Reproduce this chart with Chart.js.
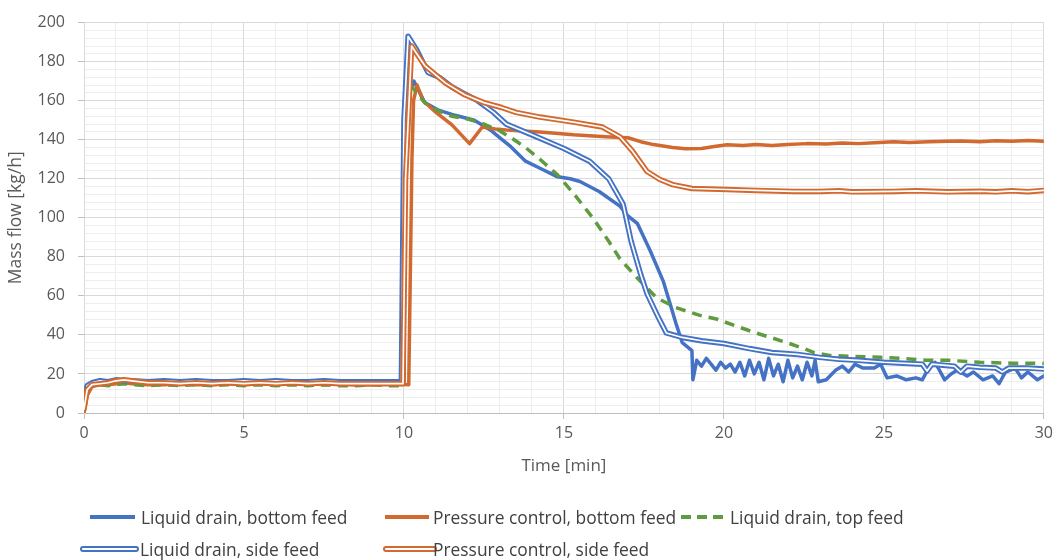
<!DOCTYPE html>
<html>
<head>
<meta charset="utf-8">
<script src="https://cdn.jsdelivr.net/npm/chart.js@4.4.1/dist/chart.umd.min.js"></script>
<style>
  body { margin: 0; background: #fff; }
  #wrap { position: relative; width: 1058px; height: 560px; }
  #chart { position: absolute; left: 0; top: 0; }
  .item { position: absolute; font-family: "Open Sans", sans-serif; font-size: 17.4px; color: #404040; white-space: nowrap; line-height: 20px; }
  .sym { position: absolute; }
</style>
</head>
<body>
<div id="wrap">
  <canvas id="chart" width="1058" height="560"></canvas>
  <div id="legend"></div>
</div>
<script>
// Liquid drain, bottom feed
const ldBottomT = [0, 0.1, 0.25, 0.5, 0.75, 1, 1.25, 1.5, 2, 2.5, 3, 3.5, 4, 4.5, 5, 5.5, 6, 6.5, 7, 7.5, 8, 8.5, 9, 9.5, 10.0,
  10.03, 10.1, 10.2, 10.31, 10.65, 11.1, 11.6, 12.2, 12.7, 13.0, 13.3, 13.8, 14.3, 14.8, 15.2, 15.5, 16.1, 16.75, 17.0, 17.3, 17.7, 18.1, 18.3, 18.5, 18.7, 19.0, 19.03,
  19.15, 19.3, 19.45, 19.6, 19.75, 19.9, 20.05, 20.2, 20.35, 20.5, 20.65, 20.8, 20.95, 21.1, 21.25, 21.4, 21.55, 21.7, 21.85, 22.0, 22.15, 22.3, 22.45, 22.6, 22.75, 22.85, 22.95,
  23.2, 23.5, 23.7, 23.9, 24.1, 24.35, 24.7, 24.9, 25.1, 25.4, 25.7, 26.0, 26.2, 26.4, 26.6, 26.9, 27.1, 27.3, 27.6, 27.8, 28.1, 28.4, 28.6, 28.8, 29.1, 29.3, 29.5, 29.8, 30];
const ldBottomV = [4, 13, 15.5, 16, 16.5, 16, 16.5, 16, 16, 15.5, 16, 15.5, 15.5, 16, 15.5, 15.5, 15, 15.5, 15, 15.5, 15, 15, 15.5, 15, 15,
  100, 155, 166, 170, 159, 155, 152.5, 150, 145, 141, 137, 129, 125, 121, 120, 118.6, 113.5, 106, 101, 97, 83, 67.7, 57, 46, 36, 32, 17,
  27, 24, 28, 25, 22, 26, 23, 25, 21, 26, 19, 27, 20, 26, 17, 28, 19, 25, 16, 27, 18, 24, 17, 26, 19, 27, 16,
  17, 22, 24, 21, 25, 23, 23, 25, 18, 19, 17, 18, 17, 23, 26, 17, 20, 22, 19, 21, 17, 19, 15, 21, 23, 18, 21, 17, 19];

// Pressure control, bottom feed
const pcBottomT = [0, 0.1, 0.25, 0.5, 0.75, 1, 1.25, 1.5, 2, 2.5, 3, 3.5, 4, 4.5, 5, 5.5, 6, 6.5, 7, 7.5, 8, 8.5, 9, 9.5, 10.15,
  10.25, 10.3, 10.41, 10.6, 11.0, 11.5, 12.05, 12.45, 12.85, 13.2, 14.25, 15.3, 16.3, 17.0, 17.4, 17.8, 18.4, 18.8, 19.3, 19.7, 20.1, 20.6, 21, 21.5, 22, 22.6,
  23.2, 23.7, 24.2, 24.7, 25.3, 25.8, 26.4, 27, 27.4, 28, 28.5, 29, 29.5, 30];
const pcBottomV = [0, 9, 13.5, 14.5, 14.5, 15, 15.5, 15, 14.5, 14.5, 15, 14.5, 14.5, 15, 14.5, 15, 14.5, 15, 15.5, 14.5, 15, 14.5, 14.5, 15, 14.5,
  130, 160, 168, 160, 154, 147.6, 138, 146.5, 145.5, 145, 144, 142.5, 141.5, 141, 139, 137.5, 136, 135.4, 135.5, 136.5, 137.4, 137, 137.5, 137, 137.5, 138,
  137.8, 138.3, 138, 138.5, 139, 138.6, 139, 139.2, 139.4, 139, 139.5, 139.2, 139.6, 139.2];

// Liquid drain, top feed
const ldTopT = [0, 0.1, 0.25, 0.5, 0.75, 1, 1.25, 1.5, 2, 2.5, 3, 3.5, 4, 4.5, 5, 5.5, 6, 6.5, 7, 7.5, 8, 8.5, 9, 9.5, 9.98,
  10.05, 10.12, 10.3, 10.65, 11.05, 11.5, 12.0, 12.5, 13.0, 13.4, 13.8, 14.25, 14.8, 15.3, 15.9, 16.4, 16.75, 17.3, 17.9, 18.5, 19.25, 19.8, 20.3, 21.0, 21.5,
  22.05, 22.5, 22.8, 23.3, 24.0, 24.9, 25.6, 26.3, 27.0, 28.0, 29.0, 30];
const ldTopV = [2, 11, 14, 14.5, 14, 14.5, 15, 14.5, 14, 14.5, 14, 14.5, 14, 14.5, 14, 14.5, 14, 14.5, 14, 14.5, 14, 14, 14.5, 14, 14,
  140, 170, 166, 159, 155, 152, 150.6, 148, 144.5, 140.5, 136, 130, 122, 112.5, 100, 88, 79, 69, 59, 54, 50, 48, 45, 41, 38.5,
  35.6, 33, 31, 29.5, 29, 28.5, 28, 27, 27, 26, 25.5, 25.4];

// Liquid drain, side feed
const ldSideT = [0, 0.1, 0.25, 0.5, 0.75, 1, 1.25, 1.5, 2, 2.5, 3, 3.5, 4, 4.5, 5, 5.5, 6, 6.5, 7, 7.5, 8, 8.5, 9, 9.5, 9.92,
  10.0, 10.13, 10.4, 10.75, 11.1, 11.5, 11.9, 12.3, 12.8, 13.2, 14.0, 15.0, 15.8, 16.4, 16.85, 17.1, 17.4, 17.6, 17.95, 18.2, 18.7, 19.3, 20, 20.8, 21.5, 22.3, 23,
  23.6, 24.2, 25, 25.6, 26.2, 26.35, 26.5, 27.2, 27.4, 27.6, 28, 28.5, 28.7, 28.9, 29.5, 30];
const ldSideV = [6, 14, 15.5, 16.5, 16, 17, 16.5, 16.5, 16, 16.5, 16, 16.5, 16, 16, 16.5, 16, 16.5, 16, 16, 16.5, 16, 16, 16, 16, 16,
  150, 193, 186, 174.5, 172, 167, 163.5, 160, 154, 148, 142.5, 135.5, 129, 120, 107, 88, 71, 61, 49, 41, 38.7, 37, 35.6, 33, 31, 30, 28.5,
  27.5, 27, 26, 25.5, 25, 21.5, 25, 24, 21, 24, 23.4, 23, 21, 23, 23, 22.5];

// Pressure control, side feed
const pcSideT = [0, 0.1, 0.25, 0.5, 0.75, 1, 1.25, 1.5, 2, 2.5, 3, 3.5, 4, 4.5, 5, 5.5, 6, 6.5, 7, 7.5, 8, 8.5, 9, 9.5, 9.97,
  10.05, 10.24, 10.4, 10.65, 11.3, 11.9, 12.2, 12.5, 13.05, 13.5, 14.25, 15.3, 16.2, 16.75, 17.15, 17.6, 18.0, 18.4, 19.0, 20.1, 21, 22.2, 23, 23.6, 24,
  25.3, 26, 27, 28, 28.5, 29, 29.5, 30];
const pcSideV = [2, 12, 14.5, 15, 15.5, 16.5, 17, 16.5, 15.5, 15.5, 15, 15.5, 15, 15.5, 15, 15.5, 15, 15.5, 15, 15.5, 15, 15, 15, 15, 15,
  120, 188, 184, 178, 169, 163, 161, 159, 156.5, 154, 151.6, 149, 146.5, 141.5, 134, 123.7, 119.6, 117, 115, 114.5, 114, 113.5, 113.5, 113.8, 113.3,
  113.5, 113.8, 113.3, 113.6, 113.3, 113.8, 113.4, 114];

const xTicks = [0, 5, 10, 15, 20, 25, 30];
const yTicks = [0, 20, 40, 60, 80, 100, 120, 140, 160, 180, 200];

const BLUE = '#4472C4';
const ORANGE = '#D2692E';
const GREEN = '#5F9B3F';

const pts = (t, v) => t.map((x, i) => ({x: x, y: v[i]}));

const line = (label, t, v, color, width, order, extra) => Object.assign({
  label: label,
  data: pts(t, v),
  borderColor: color,
  borderWidth: width,
  pointRadius: 0,
  tension: 0,
  fill: false,
  borderJoinStyle: 'round',
  borderCapStyle: 'round',
  order: order
}, extra || {});

// double lines = thick coloured line with a thin white one on top
const datasets = [
  line('Liquid drain, bottom feed', ldBottomT, ldBottomV, BLUE, 3.5, 9),
  line('Pressure control, bottom feed', pcBottomT, pcBottomV, ORANGE, 3.5, 8),
  line('Liquid drain, top feed', ldTopT, ldTopV, GREEN, 3.5, 7, {borderDash: [10, 7], borderCapStyle: 'butt'}),
  line('Liquid drain, side feed', ldSideT, ldSideV, BLUE, 5.5, 6),
  line('', ldSideT, ldSideV, '#ffffff', 1.7, 5),
  line('Pressure control, side feed', pcSideT, pcSideV, ORANGE, 5.5, 4),
  line('', pcSideT, pcSideV, '#ffffff', 1.7, 3)
];

const minorColor = '#eeeeee';
const majorColor = '#d9d9d9';

new Chart(document.getElementById('chart'), {
  type: 'line',
  data: { datasets: datasets },
  options: {
    responsive: false,
    animation: false,
    events: [],
    layout: { padding: { left: 0, right: 14, top: 18, bottom: 80 } },
    plugins: { legend: { display: false }, tooltip: { enabled: false } },
    scales: {
      x: {
        type: 'linear',
        min: 0, max: 30,
        afterFit: s => { s.height = 67; },
        ticks: {
          stepSize: 1, autoSkip: false, maxRotation: 0, padding: 5,
          color: '#595959', font: { family: 'Open Sans', size: 16 },
          callback: v => xTicks.includes(v) ? v : ''
        },
        grid: {
          color: c => (c.tick && c.tick.value % 5 === 0) ? majorColor : minorColor,
          tickColor: c => (c.tick && c.tick.value % 5 === 0) ? '#bfbfbf' : 'rgba(0,0,0,0)',
          tickLength: 6
        },
        border: { color: '#bfbfbf', width: 1 },
        title: { display: true, text: 'Time [min]', color: '#595959', font: { family: 'Open Sans', size: 17 }, padding: { top: 0, bottom: 4 } }
      },
      y: {
        min: 0, max: 200,
        afterFit: s => { s.width = 84; },
        ticks: {
          stepSize: 4, autoSkip: false, padding: 13,
          color: '#595959', font: { family: 'Open Sans', size: 16 },
          callback: v => yTicks.includes(v) ? v : ''
        },
        grid: {
          color: c => (c.tick && c.tick.value % 20 === 0) ? majorColor : minorColor,
          tickColor: c => (c.tick && c.tick.value % 20 === 0) ? '#bfbfbf' : 'rgba(0,0,0,0)',
          tickLength: 6
        },
        border: { color: '#d9d9d9', width: 1 },
        title: { display: true, text: 'Mass flow [kg/h]', color: '#595959', font: { family: 'Open Sans', size: 17.5 }, padding: { top: 6, bottom: 0 } }
      }
    }
  }
});

// legend laid out like the original (column grid), symbols in CSS
const legendItems = [
  { text: 'Liquid drain, bottom feed', kind: 'solid', color: BLUE, sx: 90, sw: 45, tx: 141, y: 517 },
  { text: 'Pressure control, bottom feed', kind: 'solid', color: ORANGE, sx: 385, sw: 44, tx: 433, y: 517 },
  { text: 'Liquid drain, top feed', kind: 'dash', color: GREEN, sx: 681, sw: 42, tx: 730, y: 517 },
  { text: 'Liquid drain, side feed', kind: 'double', color: BLUE, sx: 80, sw: 55, tx: 140, y: 549 },
  { text: 'Pressure control, side feed', kind: 'double', color: ORANGE, sx: 383, sw: 50, tx: 433, y: 549 }
];
const legend = document.getElementById('legend');
legendItems.forEach(it => {
  const s = document.createElement('div');
  s.className = 'sym';
  s.style.left = it.sx + 'px';
  s.style.width = it.sw + 'px';
  if (it.kind === 'solid') {
    s.style.top = (it.y - 2) + 'px'; s.style.height = '3.5px'; s.style.background = it.color;
  } else if (it.kind === 'dash') {
    s.style.top = (it.y - 2) + 'px'; s.style.height = '3.5px';
    s.style.background = 'repeating-linear-gradient(90deg,' + it.color + ' 0 10px, transparent 10px 16px)';
  } else {
    s.style.top = (it.y - 3) + 'px'; s.style.height = '2px';
    s.style.border = '2px solid ' + it.color; s.style.borderRadius = '3px'; s.style.background = '#fff';
  }
  legend.appendChild(s);
  const t = document.createElement('div');
  t.className = 'item';
  t.style.left = it.tx + 'px';
  t.style.top = (it.y - 10) + 'px';
  t.textContent = it.text;
  legend.appendChild(t);
});
</script>
</body>
</html>
